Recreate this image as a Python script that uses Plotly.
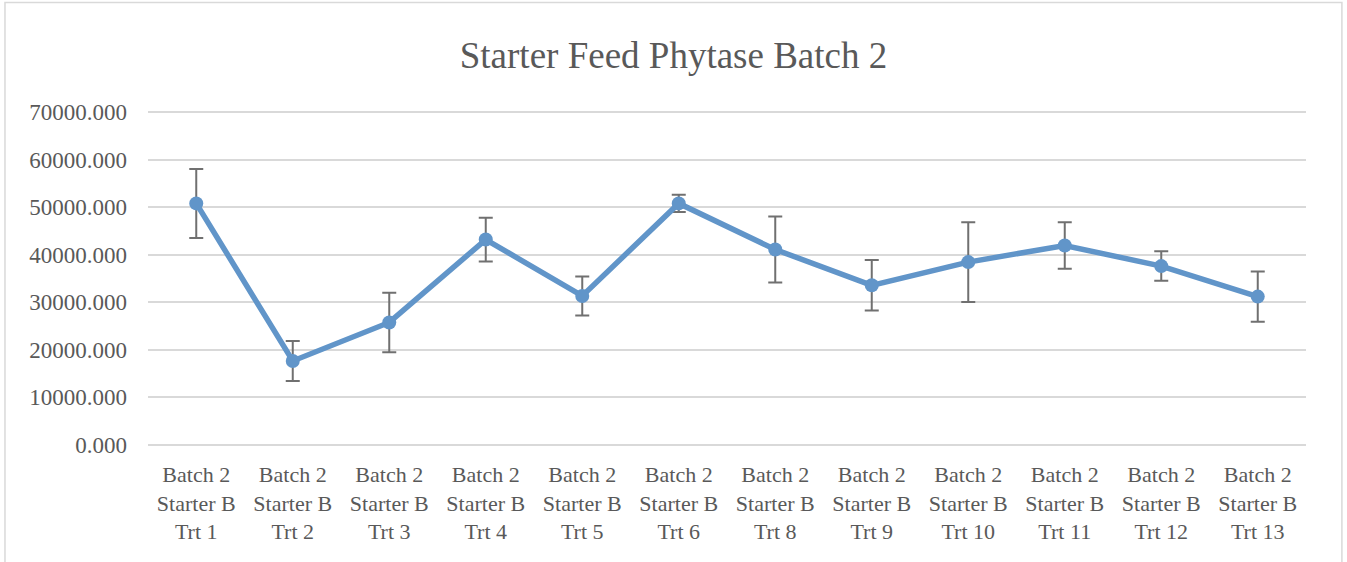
import plotly.graph_objects as go

fnt = "Liberation Serif"
line_color = "#6195c9"
err_color = "#707070"

categories = ["Batch 2<br>Starter B<br>Trt 1", "Batch 2<br>Starter B<br>Trt 2", "Batch 2<br>Starter B<br>Trt 3",
              "Batch 2<br>Starter B<br>Trt 4", "Batch 2<br>Starter B<br>Trt 5", "Batch 2<br>Starter B<br>Trt 6",
              "Batch 2<br>Starter B<br>Trt 8", "Batch 2<br>Starter B<br>Trt 9", "Batch 2<br>Starter B<br>Trt 10",
              "Batch 2<br>Starter B<br>Trt 11", "Batch 2<br>Starter B<br>Trt 12", "Batch 2<br>Starter B<br>Trt 13"]
phytase = [50800, 17650, 25750, 43200, 31330, 50800, 41100, 33570, 38450, 41940, 37610, 31190]
error = [7260, 4200, 6250, 4600, 4100, 1800, 6950, 5300, 8400, 4900, 3100, 5270]
y_ticks = [0, 10000, 20000, 30000, 40000, 50000, 60000, 70000]

fig = go.Figure(
    data=[
        go.Scatter(
            x=categories,
            y=phytase,
            mode="lines+markers",
            line=dict(color=line_color, width=5.5),
            marker=dict(color=line_color, size=14),
            error_y=dict(type="data", array=error, visible=True, color=err_color, thickness=2, width=7),
            showlegend=False,
        )
    ],
    layout=go.Layout(
        width=1347,
        height=562,
        paper_bgcolor="white",
        plot_bgcolor="white",
        margin=dict(l=148, r=41, t=111, b=116),
        title=dict(
            text="Starter Feed Phytase Batch 2",
            font=dict(size=37, family=fnt, color="#595959"),
            x=0.5,
            xref="container",
            xanchor="center",
            y=0.902,
            yref="container",
            yanchor="middle",
        ),
        xaxis=dict(
            range=[-0.5, len(categories) - 0.5],
            showgrid=False,
            showline=False,
            zeroline=False,
            tickfont=dict(size=22, family=fnt, color="#595959"),
            ticklabelstandoff=13,
        ),
        yaxis=dict(
            range=[-250, 70250],
            tickvals=y_ticks,
            tickformat=".3f",
            showgrid=True,
            gridcolor="#d9d9d9",
            gridwidth=2,
            zeroline=False,
            showline=False,
            tickfont=dict(size=23, family=fnt, color="#595959"),
            ticklabelstandoff=20,
        ),
        shapes=[
            dict(type="rect", xref="paper", yref="paper", x0=-0.1235, x1=1.031, y0=-0.36, y1=1.324,
                 line=dict(color="#d9d9d9", width=1.5), layer="below"),
        ],
    ),
)

fig.write_html("out.html", config={"displayModeBar": False},
               post_script="document.body.style.margin='0';")
